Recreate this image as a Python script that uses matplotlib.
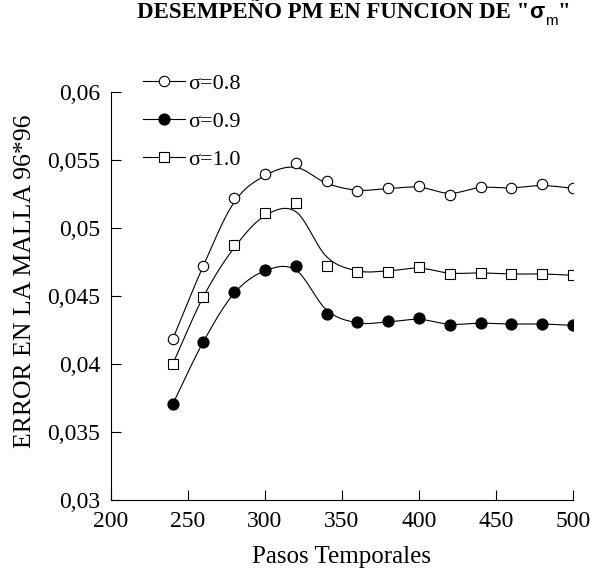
import numpy as np
import matplotlib
matplotlib.use("Agg")
import matplotlib.pyplot as plt
from matplotlib.lines import Line2D
from matplotlib.ticker import FixedLocator, FuncFormatter

# data
pasos = [240, 260, 280, 300, 320, 340, 360, 380, 400, 420, 440, 460, 480, 500]

err_08 = [0.04181, 0.04723, 0.05223, 0.05395, 0.05480, 0.05348, 0.05272,
          0.05292, 0.05311, 0.05240, 0.05304, 0.05292, 0.05324, 0.05292]
err_09 = [0.03703, 0.04164, 0.04529, 0.04691, 0.04723, 0.04365, 0.04307,
          0.04314, 0.04340, 0.04287, 0.04304, 0.04294, 0.04294, 0.04284]
err_10 = [0.03998, 0.04495, 0.04873, 0.05113, 0.05181, 0.04720, 0.04679,
          0.04679, 0.04713, 0.04662, 0.04672, 0.04662, 0.04662, 0.04652]

# the smoothed lines in the original do not pass through every marker
curva_08 = [0.04181, 0.04723, 0.05190, 0.05385, 0.05446, 0.05329, 0.05278,
            0.05290, 0.05300, 0.05255, 0.05298, 0.05295, 0.05312, 0.05292]
curva_09 = [0.03703, 0.04164, 0.04520, 0.04685, 0.04691, 0.04397, 0.04303,
            0.04310, 0.04328, 0.04292, 0.04300, 0.04294, 0.04294, 0.04284]
curva_10 = [0.03998, 0.04495, 0.04855, 0.05090, 0.05120, 0.04789, 0.04685,
            0.04685, 0.04705, 0.04668, 0.04670, 0.04662, 0.04662, 0.04652]

etiquetas = ["σ=0.8", "σ=0.9", "σ=1.0"]
y_ticks = [0.03, 0.035, 0.04, 0.045, 0.05, 0.055, 0.06]
x_ticks = [200, 250, 300, 350, 400, 450, 500]


def suave(x, y, n=20):
    # catmull-rom style smoothing, only for drawing the line
    x = np.asarray(x, float)
    y = np.asarray(y, float)
    px = np.concatenate([[2 * x[0] - x[1]], x, [2 * x[-1] - x[-2]]])
    py = np.concatenate([[2 * y[0] - y[1]], y, [2 * y[-1] - y[-2]]])
    xs, ys = [], []
    t = np.linspace(0, 1, n, endpoint=False)
    for i in range(1, len(px) - 2):
        for p, out in ((px, xs), (py, ys)):
            p0, p1, p2, p3 = p[i - 1], p[i], p[i + 1], p[i + 2]
            out.extend(0.5 * ((2 * p1) + (-p0 + p2) * t
                              + (2 * p0 - 5 * p1 + 4 * p2 - p3) * t ** 2
                              + (-p0 + 3 * p1 - 3 * p2 + p3) * t ** 3))
    xs.append(x[-1])
    ys.append(y[-1])
    return np.array(xs), np.array(ys)


plt.rcParams["font.family"] = ["Liberation Serif", "DejaVu Serif"]

W, H = 592, 573
fig = plt.figure(figsize=(W / 100, H / 100), dpi=100)
# plot box: x 111..573 px, y 92..500 px
ax = fig.add_axes([111 / W, 1 - 500 / H, 462 / W, 408 / H])

estilos = [
    dict(marker="o", mfc="white", mec="black", ms=7.5, mew=0.8),
    dict(marker="o", mfc="black", mec="black", ms=8, mew=0.8),
    dict(marker="s", mfc="white", mec="black", ms=7.2, mew=0.8),
]

for serie, curva, est in zip([err_08, err_09, err_10],
                             [curva_08, curva_09, curva_10], estilos):
    xs, ys = suave(pasos, curva)
    ax.plot(xs, ys, color="black", lw=0.8, zorder=2)
    ax.plot(pasos, serie, ls="none", zorder=3, **est)

ax.set_xlim(200, 500)
ax.set_ylim(0.03, 0.06)
ax.xaxis.set_major_locator(FixedLocator(x_ticks))
ax.yaxis.set_major_locator(FixedLocator(y_ticks))
ax.yaxis.set_major_formatter(FuncFormatter(lambda v, p: f"{v:g}".replace(".", ",")))
ax.tick_params(direction="in", length=7, width=0.8, labelsize=17, pad=8)
for s in ["top", "right"]:
    ax.spines[s].set_visible(False)
for s in ["left", "bottom"]:
    ax.spines[s].set_linewidth(0.8)

fig.text(342 / W, 1 - 557 / H, "Pasos Temporales", fontsize=18,
         ha="center", va="center")
fig.text(25 / W, 1 - 281 / H, "ERROR EN LA MALLA 96*96", fontsize=18.5,
         rotation=90, ha="center", va="center")

handles = [Line2D([], [], color="black", lw=0.8, **e) for e in estilos]
fig.legend(handles, etiquetas, loc="upper left",
           bbox_to_anchor=(143 / W, 1 - 73 / H), frameon=False,
           fontsize=16, handlelength=1.9, handletextpad=0.15,
           labelspacing=0.8, numpoints=1, borderaxespad=0, borderpad=0)

# title made of pieces: serif bold text, sans sigma with subscript m
r = fig.canvas.get_renderer()
base = 1 - 18 / H
piezas = [
    ('DESEMPEÑO PM EN FUNCION DE "', dict(fontsize=16.5, fontweight="bold"), 0),
    ("σ", dict(fontsize=16, family="Liberation Sans", fontweight="bold"), 0),
    ("m", dict(fontsize=11, family="Liberation Sans"), -7),
    ('"', dict(fontsize=16.5, fontweight="bold"), 0),
]
textos = []
x = 0.0
for s, kw, dy in piezas:
    t = fig.text(x, base + dy / H, s, va="baseline", **kw)
    x = t.get_window_extent(r).x1 / W
    textos.append(t)
desplaza = 570 / W - x
for t in textos:
    px, py = t.get_position()
    t.set_position((px + desplaza, py))

fig.savefig("out.png", dpi=100)
